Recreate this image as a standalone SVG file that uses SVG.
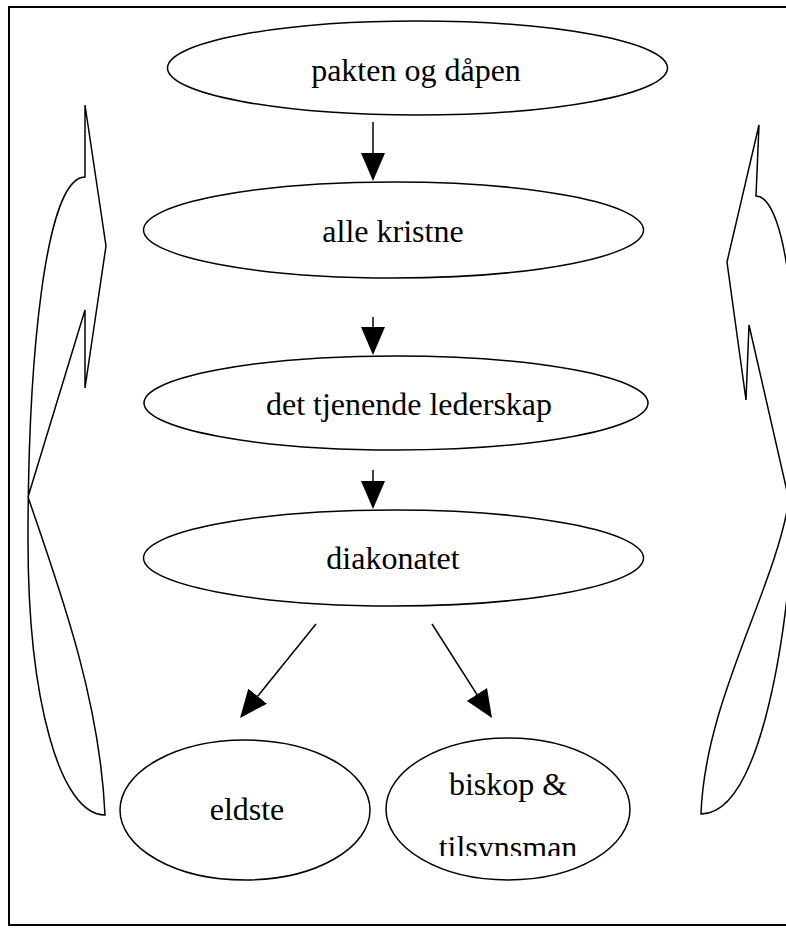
<svg xmlns="http://www.w3.org/2000/svg" width="786" height="933" viewBox="0 0 786 933">
<style>
.frame{fill:#fff;stroke:#000;stroke-width:2}
.node ellipse{fill:#fff;stroke:#000;stroke-width:1.5}
.node text{font-family:"Liberation Serif","Times New Roman",serif;font-size:32px;fill:#000;text-anchor:middle}
.curve{fill:#fff;stroke:#000;stroke-width:1.5;stroke-linejoin:miter}
.conn line{stroke:#000;stroke-width:1.5;marker-end:url(#ah)}
</style>
<defs>
<marker id="ah" markerUnits="userSpaceOnUse" markerWidth="28" markerHeight="24" refX="26" refY="12" orient="auto">
<path d="M0,0 L28,12 L0,24 Z" fill="#000"/>
</marker>
<clipPath id="clipB"><rect x="385" y="735" width="250" height="121"/></clipPath>
</defs>
<rect class="frame" x="9" y="7" width="800" height="918"/>
<g id="curved-left"><path class="curve" d="M85,105 L106,246 L85,388 L85,310 L28,497 C60,590 100,700 105,815 C60,815 28,700 28,540 C28,360 45,177 85,177 Z"/></g>
<g id="curved-right"><path class="curve" d="M759,125 L727,262 L746,400 L749,325 L789,500 C775,590 705,700 701,814 C812,814 821,196 756,196 Z"/></g>
<g id="n1" class="node"><ellipse cx="417.5" cy="68" rx="250" ry="47"/><text x="416" y="81">pakten og dåpen</text></g>
<g id="n2" class="node"><ellipse cx="393.5" cy="230" rx="250" ry="48"/><text x="393" y="242">alle kristne</text></g>
<g id="n3" class="node"><ellipse cx="396" cy="403" rx="252" ry="47"/><text x="409" y="415">det tjenende lederskap</text></g>
<g id="n4" class="node"><ellipse cx="393.5" cy="558" rx="250" ry="48"/><text x="393" y="569">diakonatet</text></g>
<g id="n5" class="node"><ellipse cx="245" cy="810" rx="125" ry="70"/><text x="247" y="820">eldste</text></g>
<g id="n6" class="node"><ellipse cx="508" cy="809" rx="122" ry="71"/><text x="508" y="795">biskop &amp;</text><text x="508" y="858" clip-path="url(#clipB)">tilsynsman</text></g>
<g id="connectors" class="conn">
<line x1="373" y1="122" x2="373" y2="179"/>
<line x1="373" y1="317" x2="373" y2="353"/>
<line x1="373" y1="470" x2="373" y2="507"/>
<line x1="316" y1="624" x2="241.3" y2="716.4"/>
<line x1="432" y1="624" x2="490.9" y2="716.3"/>
</g>
</svg>
